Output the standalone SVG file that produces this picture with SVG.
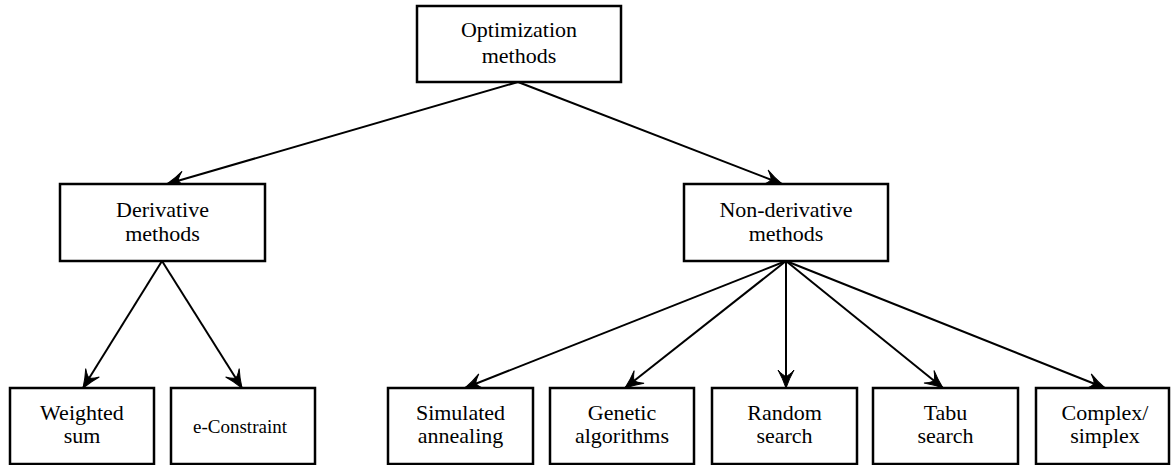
<svg xmlns="http://www.w3.org/2000/svg" width="1171" height="465" viewBox="0 0 1171 465">
  <style>
    .box { fill: #ffffff; stroke: #000000; stroke-width: 2.5; }
    .lbl { font-family: "Liberation Serif", "Times New Roman", serif; font-size: 22px; fill: #000000; text-anchor: middle; }
    .sm { font-size: 19px; }
    .edge { fill: none; stroke: #000000; stroke-width: 2; marker-end: url(#arrow); }
  </style>
  <defs>
    <marker id="arrow" markerUnits="userSpaceOnUse" markerWidth="24" markerHeight="20" viewBox="-21 -10 24 20" refX="0" refY="0" orient="auto">
      <path d="M0,0 Q-10,-3.5 -18,-8 Q-12,-2.5 -12,0 Q-12,2.5 -18,8 Q-10,3.5 0,0 Z" fill="#000000" stroke="#000000" stroke-width="1"/>
    </marker>
  </defs>
  <rect width="1171" height="465" fill="#ffffff"/>

  <g id="connectors">
    <line class="edge" x1="518" y1="82" x2="167" y2="184"/>
    <line class="edge" x1="518" y1="82" x2="782" y2="184"/>
    <line class="edge" x1="162" y1="261" x2="83" y2="388"/>
    <line class="edge" x1="162" y1="261" x2="242" y2="388"/>
    <line class="edge" x1="786" y1="261" x2="465" y2="388"/>
    <line class="edge" x1="786" y1="261" x2="625" y2="388"/>
    <line class="edge" x1="786" y1="261" x2="786" y2="388"/>
    <line class="edge" x1="786" y1="261" x2="943" y2="388"/>
    <line class="edge" x1="786" y1="261" x2="1105" y2="388"/>
  </g>

  <g id="optimization-methods">
    <rect class="box" x="417" y="6" width="204" height="76"/>
    <text class="lbl" x="519" y="37">Optimization</text>
    <text class="lbl" x="519" y="63">methods</text>
  </g>

  <g id="derivative-methods">
    <rect class="box" x="60" y="184" width="205" height="77"/>
    <text class="lbl" x="162.5" y="217">Derivative</text>
    <text class="lbl" x="162.5" y="241">methods</text>
  </g>

  <g id="non-derivative-methods">
    <rect class="box" x="684" y="184" width="204" height="77"/>
    <text class="lbl" x="786" y="217">Non-derivative</text>
    <text class="lbl" x="786" y="241">methods</text>
  </g>

  <g id="weighted-sum">
    <rect class="box" x="10" y="388" width="144" height="76"/>
    <text class="lbl" x="82" y="420">Weighted</text>
    <text class="lbl" x="82" y="443">sum</text>
  </g>

  <g id="e-constraint">
    <rect class="box" x="171" y="388" width="144" height="76"/>
    <text class="lbl sm" x="240" y="433">e-Constraint</text>
  </g>

  <g id="simulated-annealing">
    <rect class="box" x="388" y="388" width="145" height="76"/>
    <text class="lbl" x="460.5" y="420">Simulated</text>
    <text class="lbl" x="460.5" y="443">annealing</text>
  </g>

  <g id="genetic-algorithms">
    <rect class="box" x="550" y="388" width="144" height="76"/>
    <text class="lbl" x="622" y="420">Genetic</text>
    <text class="lbl" x="622" y="443">algorithms</text>
  </g>

  <g id="random-search">
    <rect class="box" x="712" y="388" width="145" height="76"/>
    <text class="lbl" x="784.5" y="420">Random</text>
    <text class="lbl" x="784.5" y="443">search</text>
  </g>

  <g id="tabu-search">
    <rect class="box" x="873" y="388" width="145" height="76"/>
    <text class="lbl" x="945.5" y="420">Tabu</text>
    <text class="lbl" x="945.5" y="443">search</text>
  </g>

  <g id="complex-simplex">
    <rect class="box" x="1036" y="388" width="133" height="76"/>
    <text class="lbl" x="1105" y="420">Complex/</text>
    <text class="lbl" x="1105" y="443">simplex</text>
  </g>
</svg>
